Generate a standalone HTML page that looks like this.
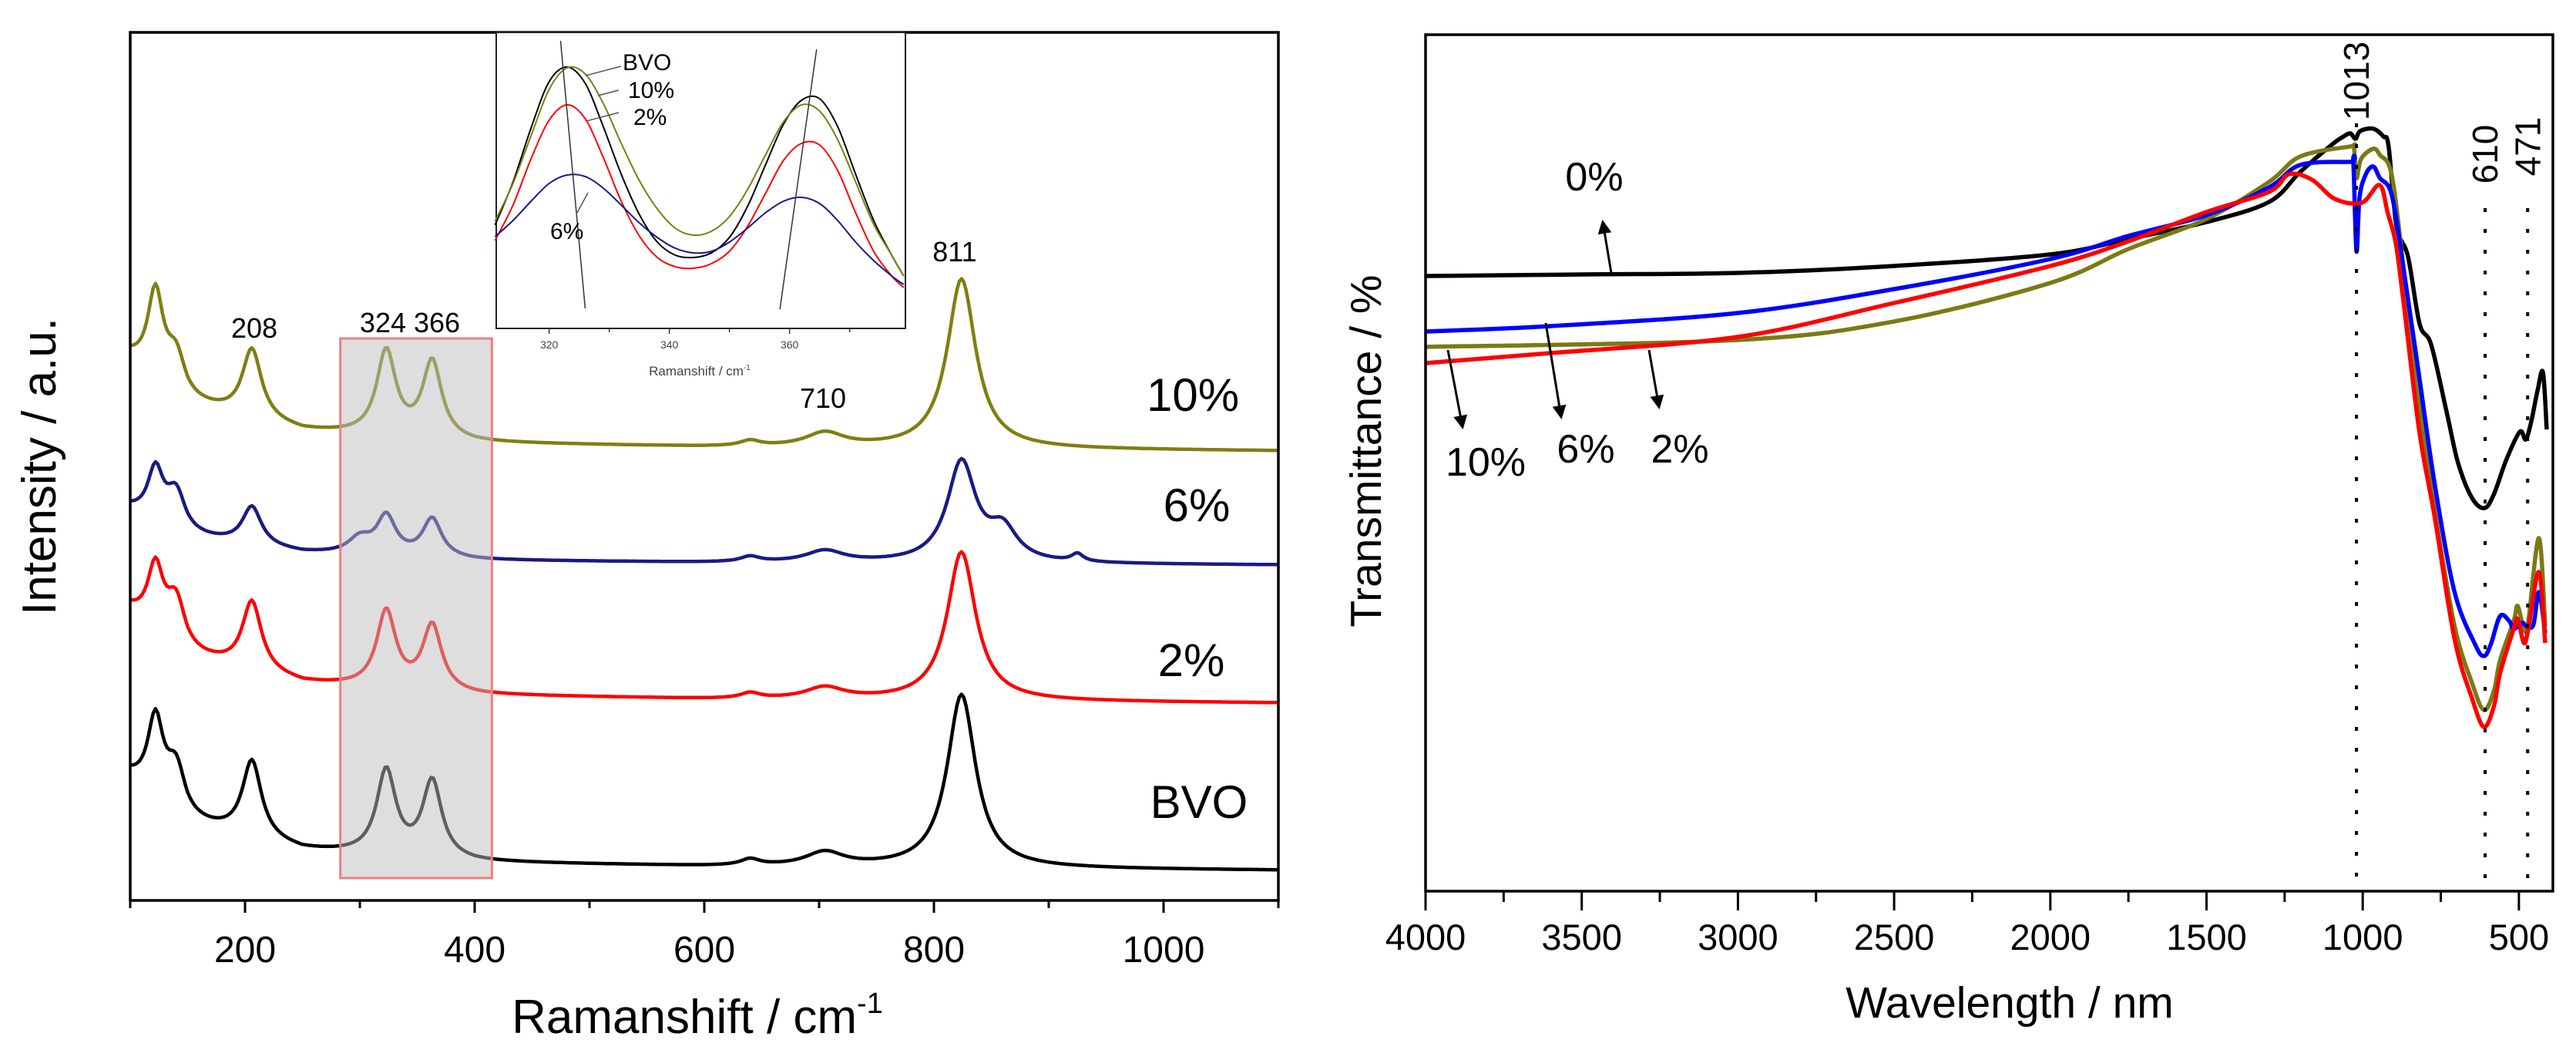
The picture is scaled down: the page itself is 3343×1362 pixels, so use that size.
<!DOCTYPE html>
<html><head><meta charset="utf-8"><style>
html,body{margin:0;padding:0;background:#fff;}
svg{display:block;font-family:"Liberation Sans",Arial,sans-serif;}
</style></head><body>
<svg id="fig" width="3343" height="1362" viewBox="0 0 3343 1362" xmlns="http://www.w3.org/2000/svg">
<rect x="0" y="0" width="3343" height="1362" fill="#fff"/>
<g id="left"></g>
<g id="inset"></g>
<g id="right"></g>
</svg>
<script>
// ---------- Raman data (left) ----------
const ramanSeries = ["BVO","2%","6%","10%"];
const ramanColors = ["#000000","#ff0000","#1a1a85","#7f7f12"];
const ramanOffsets = [3.9, 25.6, 43.5, 58.3];
const ramanPeakPos = [122,140,206,300,323,363,640,705,824,860,925];
const ramanPeakWidth = [8,10,10,12,10,10,10,20,15,15,6];
const ramanHeightsBVO = [10,6,10,0,11,10,0.8,1.8,22.5,0,0];
const ramanHeights2 = [8,6,9,0,10,8.5,0.7,1.5,19.3,0,0];
const ramanHeights6 = [6.5,5,5,2,5,5,0.7,1.5,13,4,1];
const ramanHeights10 = [11,5,9,0,11,10,0.7,1.8,22,0,0];
const ramanBgScale = [1,1,0.6,1];
const ramanBgX = [100,150,250,400,600,1100];
const ramanBgY = [12,6,2.5,1,0.5,0];
const ramanXTicks = [200,400,600,800,1000];
// ---------- Inset data ----------
const insetX = [311,314,317,320,323,326,329,332,335,338,341,344,347,350,353,356,359,362,365,368,371,374,377,379];
const insetBVO = [134,190,260,320,339,318,262,200,148,112,95,92,98,118,158,212,265,296,298,262,200,140,95,68];
const insetP10 = [139,188,250,310,338,330,292,240,192,155,130,121,126,145,180,225,268,290,282,245,190,135,95,68];
const insetP2 = [114,160,220,270,290,272,222,165,120,92,80,78,84,100,132,175,218,240,238,205,150,100,68,53];
const insetP6 = [119,140,165,188,199,197,182,160,137,118,104,98,100,112,130,150,165,170,162,140,112,88,68,57];
const insetTicks = [320,340,360];
// ---------- Transmittance data (right) ----------
const tSeriesNames = ["0%","10%","6%","2%"];
const tColors = ["#000000","#7a7a14","#0000ff","#ff0000"];
const t0 = [[4000,79.8],[3500,80],[3000,80.2],[2500,81.1],[2000,82.6],[1750,84.6],[1500,86.8],[1300,89.4],[1200,93.3],[1100,96.8],[1065,97.8],[1040,98.3],[1023,97.6],[1008,98.6],[966,98.9],[934,97.9],[917,96.6],[892,86.3],[855,82.3],[818,73.6],[781,70.9],[732,62.3],[695,55.6],[650,51],[610,49.7],[580,51.5],[540,56],[497,59.6],[478,58.6],[460,61],[440,65],[423,67.3],[411,59.9]];
const t10 = [[4000,70.6],[3000,71.5],[2500,73.9],[2000,78.9],[1750,83.3],[1500,87.2],[1300,92],[1200,95.3],[1040,96.6],[1028,96.5],[1020,92.5],[1005,95],[966,96.3],[945,95.5],[907,92.9],[869,80.7],[819,63.2],[769,49.3],[706,34.4],[650,27],[612,23.5],[580,26],[560,30],[517,35],[504,37],[484,34],[470,35],[436,45.8],[416,34.4]];
const t6 = [[4000,72.6],[3600,73.3],[3000,75],[2500,78.1],[2000,82],[1750,85],[1500,87.7],[1300,91.3],[1200,94.2],[1040,94.6],[1030,94.5],[1020,83],[1010,90],[990,93],[966,94],[945,92.5],[907,90.3],[869,80.7],[819,66.7],[769,52.7],[706,38.8],[640,32],[612,30.5],[590,32],[560,35.7],[530,35],[517,34],[490,34.8],[479,34.5],[454,34.5],[436,38.8],[416,33.5]];
const t2 = [[4000,68.5],[3600,69.8],[3000,71.9],[2500,76.3],[2000,81.1],[1750,84.3],[1500,88.1],[1300,90.7],[1236,93],[1163,92.3],[1089,89.8],[1003,89.3],[946,91.6],[920,88],[894,84],[869,76.3],[819,59.7],[769,48.4],[706,32.7],[650,25],[612,21.3],[580,24],[560,28.3],[517,34],[504,35.3],[484,32.2],[470,34],[436,41.4],[416,32.2]];
const tXTicks = [4000,3500,3000,2500,2000,1500,1000,500];
const tMarkers = [1020,608,472];
const tMarkerLabels = ["1013","610","471"];

const NS="http://www.w3.org/2000/svg";
function mk(tag,parent){const e=document.createElementNS(NS,tag);parent.appendChild(e);return e;}
function smooth(pts){
  let d="M"+pts[0][0].toFixed(1)+","+pts[0][1].toFixed(1);
  for(let i=0;i<pts.length-1;i++){
    const p0=pts[i-1]||pts[i],p1=pts[i],p2=pts[i+1],p3=pts[i+2]||p2;
    const c1=[p1[0]+(p2[0]-p0[0])/6,p1[1]+(p2[1]-p0[1])/6];
    const c2=[p2[0]-(p3[0]-p1[0])/6,p2[1]-(p3[1]-p1[1])/6];
    d+="C"+c1[0].toFixed(1)+","+c1[1].toFixed(1)+" "+c2[0].toFixed(1)+","+c2[1].toFixed(1)+" "+p2[0].toFixed(1)+","+p2[1].toFixed(1);
  }
  return d;
}
function txt(parent,x,y,s,size,anchor,extra){const t=mk("text",parent);t.setAttribute("x",x);t.setAttribute("y",y);t.setAttribute("font-size",size);t.setAttribute("text-anchor",anchor||"middle");t.setAttribute("fill","#000");if(extra)t.setAttribute("transform",extra);t.textContent=s;return t;}

// ===== LEFT =====
const L=document.getElementById("left");
const lx=v=>169+(v-100)*1.49, ly=v=>1168-v*10;
function bgAt(x){for(let i=0;i<ramanBgX.length-1;i++){if(x<=ramanBgX[i+1]){const f=(x-ramanBgX[i])/(ramanBgX[i+1]-ramanBgX[i]);return ramanBgY[i]+f*(ramanBgY[i+1]-ramanBgY[i]);}}return 0;}
const heightSets=[ramanHeightsBVO,ramanHeights2,ramanHeights6,ramanHeights10];
const seriesNames=["bvo","2pct","6pct","10pct"];
for(let s=0;s<4;s++){
  const pts=[];
  for(let x=100;x<=1100;x+=2){
    let v=ramanOffsets[s]+bgAt(x)*ramanBgScale[s];
    for(let k=0;k<ramanPeakPos.length;k++){const u=(x-ramanPeakPos[k])/ramanPeakWidth[k];v+=heightSets[s][k]/(1+u*u);}
    pts.push([lx(x),ly(v)]);
  }
  const p=mk("path",L);
  
  
  p.setAttribute("d","M"+pts.map(q=>q[0].toFixed(1)+","+q[1].toFixed(1)).join("L"));
  p.setAttribute("fill","none");p.setAttribute("stroke",ramanColors[s]);p.setAttribute("stroke-width","4.5");p.setAttribute("stroke-linejoin","round");
}
// highlight box
const hb=mk("rect",L);


hb.setAttribute("x",lx(283));hb.setAttribute("y",ly(72.9));hb.setAttribute("width",lx(415)-lx(283));hb.setAttribute("height",ly(2.9)-ly(72.9));
hb.setAttribute("fill","rgba(190,190,190,0.5)");hb.setAttribute("stroke","#ee8080");hb.setAttribute("stroke-width","3");
// frame
const lf=mk("rect",L);


lf.setAttribute("x",169);lf.setAttribute("y",42);lf.setAttribute("width",1490);lf.setAttribute("height",1126);lf.setAttribute("fill","none");lf.setAttribute("stroke","#000");lf.setAttribute("stroke-width","3.5");
for(let v=100;v<=1100;v+=100){
  const t=mk("line",L);
  
  
  t.setAttribute("x1",lx(v));t.setAttribute("x2",lx(v));t.setAttribute("y1",1168);t.setAttribute("y2",v%200==0?1184:1178);t.setAttribute("stroke","#000");t.setAttribute("stroke-width","3");
}
ramanXTicks.forEach(v=>{const t=txt(L,lx(v),1248,String(v),48);
  
  });
let t=txt(L,905,1340,"Ramanshift / cm",62);


const sup=mk("tspan",t);sup.setAttribute("font-size","38");sup.setAttribute("dy","-26");sup.textContent="-1";
t=txt(L,72,605,"Intensity / a.u.",62,"middle","rotate(-90 72 605)");


[["10%",1548,533],["6%",1553,676],["2%",1546,877],["BVO",1556,1061]].forEach(a=>{const e=txt(L,a[1],a[2],a[0],60);
  
  });
[["208",330,438],["324 366",532,431],["710",1068,529],["811",1239,339]].forEach(a=>{const e=txt(L,a[1],a[2],a[0],36);
  
  });

// ===== INSET =====
const I=document.getElementById("inset");
const ix=v=>644+(v-311.2)*7.8, iy=v=>426-v;
const ib=mk("rect",I);


ib.setAttribute("x",644);ib.setAttribute("y",42);ib.setAttribute("width",531);ib.setAttribute("height",384);ib.setAttribute("fill","#fff");ib.setAttribute("stroke","#222");ib.setAttribute("stroke-width","2");
const insetSets=[insetBVO,insetP10,insetP2,insetP6];
const insetCols=["#000","#7f7f12","#ff0000","#1a1a85"];
const insetNames=["bvo","10pct","2pct","6pct"];
for(let s=0;s<4;s++){
  const p=mk("path",I);
  
  
  p.setAttribute("d",smooth(insetX.map((x,i)=>[ix(x),iy(insetSets[s][i])])));
  p.setAttribute("fill","none");p.setAttribute("stroke",insetCols[s]);p.setAttribute("stroke-width","2");
}
[[321.9,373,326.0,26],[364.5,362,358.4,25]].forEach(g=>{const l=mk("line",I);
  
  
  l.setAttribute("x1",ix(g[0]));l.setAttribute("y1",iy(g[1]));l.setAttribute("x2",ix(g[2]));l.setAttribute("y2",iy(g[3]));l.setAttribute("stroke","#333");l.setAttribute("stroke-width","1.5");});
for(let v=320;v<=370;v+=10){const l=mk("line",I);
  
  
  l.setAttribute("x1",ix(v));l.setAttribute("x2",ix(v));l.setAttribute("y1",426);l.setAttribute("y2",v%20==0?433:431);l.setAttribute("stroke","#333");l.setAttribute("stroke-width","1.5");}
insetTicks.forEach(v=>{const e=txt(I,ix(v),452,String(v),14);e.setAttribute("fill","#444");
  
  });
t=txt(I,908,487,"Ramanshift / cm",17);t.setAttribute("fill","#444");


const s2=mk("tspan",t);s2.setAttribute("font-size","10");s2.setAttribute("dy","-7");s2.textContent="-1";
[["BVO",808,91],["10%",815,127],["2%",822,162],["6%",714,310]].forEach(a=>{const e=txt(I,a[1],a[2],a[0],30,"start");
  
  });
[[760,98,806,86],[776,124,803,117],[761,157,803,146],[763,250,749,276]].forEach(a=>{const l=mk("line",I);
  
  
  l.setAttribute("x1",a[0]);l.setAttribute("y1",a[1]);l.setAttribute("x2",a[2]);l.setAttribute("y2",a[3]);l.setAttribute("stroke","#555");l.setAttribute("stroke-width","1.5");});

// ===== RIGHT =====
const R=document.getElementById("right");
const rx=v=>1850+(4000-v)*0.4054, ry=v=>1156-v*10;
const tSets=[t0,t10,t6,t2];
const tNames=["0pct","10pct","6pct","2pct"];
for(let s=0;s<4;s++){
  const p=mk("path",R);
  
  
  p.setAttribute("d",smooth(tSets[s].map(q=>[rx(q[0]),ry(q[1])])));
  p.setAttribute("fill","none");p.setAttribute("stroke",tColors[s]);p.setAttribute("stroke-width","5.5");p.setAttribute("stroke-linejoin","round");
}
const mTop=[160,270,270];
tMarkers.forEach((v,i)=>{const l=mk("line",R);
  
  
  l.setAttribute("x1",rx(v));l.setAttribute("x2",rx(v));l.setAttribute("y1",mTop[i]);l.setAttribute("y2",1152);l.setAttribute("stroke","#000");l.setAttribute("stroke-width","4");l.setAttribute("stroke-dasharray","5 22");
  const tx=rx(v)+16, ty=[105,200,190][i];
  const e=txt(R,tx,ty,tMarkerLabels[i],46,"middle","rotate(-90 "+tx+" "+ty+")");
  
  });
const rf=mk("rect",R);


rf.setAttribute("x",1850);rf.setAttribute("y",45);rf.setAttribute("width",1463);rf.setAttribute("height",1111);rf.setAttribute("fill","none");rf.setAttribute("stroke","#000");rf.setAttribute("stroke-width","3.5");
for(let v=4000;v>=400;v-=250){const l=mk("line",R);
  
  
  l.setAttribute("x1",rx(v));l.setAttribute("x2",rx(v));l.setAttribute("y1",1156);l.setAttribute("y2",v%500==0?1181:1170);l.setAttribute("stroke","#000");l.setAttribute("stroke-width","3");}
tXTicks.forEach(v=>{const e=txt(R,rx(v),1232,String(v),47);
  
  });
t=txt(R,2608,1320,"Wavelength / nm",57);


t=txt(R,1792,585,"Transmittance / %",57,"middle","rotate(-90 1792 585)");


[["0%",2069,247],["10%",1928,617],["6%",2058,600],["2%",2180,600]].forEach(a=>{const e=txt(R,a[1],a[2],a[0],52);
  
  });
const defs=mk("defs",document.getElementById("fig"));
const mkr=mk("marker",defs);mkr.setAttribute("id","ah");mkr.setAttribute("markerWidth","6");mkr.setAttribute("markerHeight","6");mkr.setAttribute("refX","5");mkr.setAttribute("refY","3");mkr.setAttribute("orient","auto");mkr.setAttribute("markerUnits","strokeWidth");
const mp=mk("path",mkr);mp.setAttribute("d","M0,0 L6,3 L0,6 Z");mp.setAttribute("fill","#000");
[[2091,354,2080,288],[1879,454,1898,554],[2006,419,2026,541],[2140,454,2153,528]].forEach(a=>{const l=mk("line",R);
  
  
  l.setAttribute("x1",a[0]);l.setAttribute("y1",a[1]);l.setAttribute("x2",a[2]);l.setAttribute("y2",a[3]);l.setAttribute("stroke","#000");l.setAttribute("stroke-width","3");l.setAttribute("marker-end","url(#ah)");});
</script>
</body></html>
